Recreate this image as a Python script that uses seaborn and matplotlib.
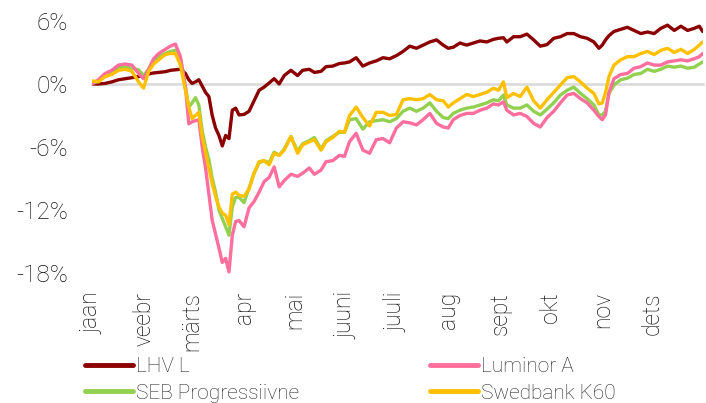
import numpy as np
import pandas as pd
import matplotlib
matplotlib.use("Agg")
import matplotlib.pyplot as plt
import matplotlib.dates as mdates
import seaborn as sns

days = [0, 4, 8, 12, 16, 20, 24, 28, 31, 34, 37, 40, 44, 47, 50, 53, 56, 58, 60, 62,
        64, 66, 68, 70, 72, 74, 76, 78, 80, 82, 84, 86, 88, 91, 94, 97, 100, 103, 106, 109,
        112, 115, 119, 123, 126, 130, 133, 137, 140, 144, 148, 151, 154, 158, 162, 166, 170, 174, 178, 182,
        186, 190, 194, 198, 202, 206, 210, 213, 216, 220, 224, 228, 232, 236, 240, 243, 246, 248, 252, 256,
        260, 264, 268, 272, 276, 280, 284, 288, 292, 296, 300, 303, 305, 307, 309, 312, 316, 320, 324, 328,
        332, 336, 340, 344, 348, 352, 356, 360, 363, 365]

lhv = [0.0, 0.0, 0.05, 0.2, 0.4, 0.5, 0.6, 0.7, 0.8, 0.95, 1.05, 1.1, 1.17, 1.3, 1.35, 1.4, 1.0, 0.4, 0.05, 0.2,
       0.4, -0.2, -0.8, -1.2, -3.0, -4.2, -4.9, -5.9, -4.9, -5.2, -2.5, -2.3, -2.95, -2.9, -2.6, -1.6, -0.6, -0.3, 0.1, 0.5,
       0.0, 0.8, 1.3, 0.8, 1.3, 1.4, 1.1, 1.2, 1.65, 1.7, 1.95, 2.0, 2.1, 2.5, 1.7, 2.0, 2.2, 2.5, 2.4, 2.7,
       3.1, 3.6, 3.4, 3.7, 4.0, 4.2, 3.7, 3.4, 3.5, 3.9, 3.7, 3.9, 4.1, 4.0, 4.25, 4.35, 4.4, 4.0, 4.5, 4.5,
       4.75, 4.2, 3.6, 3.75, 4.35, 4.5, 4.8, 4.8, 4.5, 4.35, 4.0, 3.4, 3.7, 4.2, 4.6, 5.0, 5.2, 5.4, 5.1, 4.8,
       4.95, 4.8, 5.3, 5.6, 5.1, 5.5, 5.1, 5.3, 5.5, 5.0]

luminor = [0.0, 0.4, 1.0, 1.3, 1.8, 1.9, 1.8, 1.0, 0.5, 1.4, 2.4, 2.9, 3.3, 3.6, 3.8, 2.6, -0.3, -3.8, -3.6, -3.5,
           -3.4, -6.0, -8.0, -10.5, -13.0, -14.3, -15.6, -17.0, -16.6, -17.9, -14.4, -13.1, -13.0, -13.6, -11.8, -11.2, -10.3, -9.3, -8.9, -7.9,
           -9.8, -9.2, -8.6, -8.8, -8.5, -8.0, -8.6, -8.2, -7.4, -7.3, -6.8, -6.9, -5.5, -4.7, -6.3, -6.6, -5.3, -5.2, -5.6, -4.2,
           -3.6, -3.7, -3.9, -3.4, -2.8, -3.75, -4.1, -4.2, -3.4, -3.0, -2.8, -2.8, -2.5, -2.3, -1.9, -2.0, -1.7, -2.5, -2.95, -2.8,
           -3.1, -3.75, -4.1, -3.2, -2.6, -1.8, -1.05, -0.9, -1.4, -1.8, -2.5, -3.1, -3.4, -2.9, -0.8, 0.5, 0.9, 1.0, 1.5, 1.65,
           2.0, 1.8, 1.8, 2.1, 2.2, 2.3, 2.2, 2.4, 2.6, 2.9]

seb = [0.0, 0.3, 0.7, 1.1, 1.6, 1.6, 1.5, 1.35, 0.8, 1.4, 2.3, 2.6, 2.9, 3.1, 3.2, 2.4, -0.3, -2.2, -1.8, -1.3,
       -2.0, -4.5, -6.0, -7.2, -9.0, -10.3, -12.0, -12.8, -13.6, -14.4, -11.7, -10.8, -10.8, -11.3, -9.9, -8.5, -7.5, -7.3, -7.5, -6.5,
       -6.8, -6.2, -5.0, -6.4, -5.7, -5.4, -5.1, -6.2, -5.4, -5.0, -4.6, -4.6, -3.4, -3.3, -4.3, -3.6, -3.5, -3.4, -3.6, -3.3,
       -2.6, -2.3, -2.6, -2.3, -1.8, -2.6, -3.2, -3.3, -2.8, -2.5, -2.3, -2.2, -2.0, -1.8, -1.5, -1.6, -1.05, -2.0, -2.3, -2.3,
       -2.0, -2.6, -2.95, -2.4, -1.8, -1.05, -0.6, -0.3, -0.9, -1.4, -2.0, -2.95, -2.95, -2.6, -0.9, -0.1, 0.4, 0.55, 0.9, 1.0,
       1.4, 1.2, 1.4, 1.7, 1.6, 1.7, 1.5, 1.6, 1.9, 2.1]

swedbank = [0.3, 0.2, 0.7, 0.9, 1.3, 1.4, 1.2, 0.2, -0.4, 1.2, 1.9, 2.3, 2.8, 2.9, 2.9, 1.8, -0.6, -2.2, -3.3, -3.0,
            -2.7, -5.0, -6.5, -8.0, -9.5, -10.7, -11.7, -12.3, -12.5, -13.4, -10.5, -10.3, -10.6, -10.7, -10.0, -8.5, -7.4, -7.3, -7.7, -6.6,
            -6.8, -6.3, -5.0, -6.6, -5.8, -5.5, -5.3, -6.3, -5.5, -5.1, -4.5, -4.6, -3.0, -2.2, -3.2, -4.0, -2.7, -2.7, -3.0, -2.9,
            -1.5, -1.4, -1.5, -1.4, -1.0, -1.5, -1.6, -2.2, -1.8, -1.4, -1.0, -1.2, -1.0, -0.8, -0.4, -0.6, 0.2, -1.3, -0.9, -1.2,
            -0.3, -1.6, -2.3, -1.5, -0.8, -0.1, 0.6, 0.7, 0.2, -0.4, -0.9, -1.9, -1.8, -0.8, 0.7, 1.8, 2.3, 2.6, 2.6, 2.9,
            3.1, 2.8, 3.2, 3.4, 3.0, 3.3, 2.9, 3.3, 3.7, 4.0]

funds = ["LHV L", "SEB Progressiivne", "Luminor A", "Swedbank K60"]
colors = ["#8B0000", "#92D050", "#FF6E9C", "#FFC000"]
months = ["jaan", "veebr", "märts", "apr", "mai", "juuni", "juuli", "aug", "sept", "okt", "nov", "dets"]
yticks = [6, 0, -6, -12, -18]

dates = pd.Timestamp("2020-01-01") + pd.to_timedelta(days, unit="D")
df = pd.concat([pd.DataFrame({"date": dates, "value": v, "fund": f})
                for f, v in zip(funds, [lhv, seb, luminor, swedbank])])

sns.set_style("white")
plt.rcParams["font.family"] = ["Roboto", "DejaVu Sans"]
plt.rcParams["font.weight"] = "light"
plt.rcParams["axes.unicode_minus"] = False

fig = plt.figure(figsize=(7.06, 4.03), dpi=100)
ax = fig.add_axes([0.1299, 0.3096, 0.8654, 0.6514])

sns.lineplot(data=df, x="date", y="value", hue="fund", hue_order=funds,
             palette=colors, linewidth=2.4, ax=ax)

ax.set_xlim(pd.Timestamp("2020-01-01"), pd.Timestamp("2020-12-31"))
ax.set_ylim(-18.5, 6.5)
ax.set_xlabel("")
ax.set_ylabel("")

# zero line acts as the x axis, with month ticks hanging from it
for s in ["top", "right", "left"]:
    ax.spines[s].set_visible(False)
ax.spines["bottom"].set_position(("data", 0))
ax.spines["bottom"].set_color("#d9d9d9")
ax.spines["bottom"].set_linewidth(1.8)
ax.spines["bottom"].set_zorder(0)
month_starts = [mdates.date2num(d) for d in pd.date_range("2020-01-01", periods=12, freq="MS")]
ax.set_xticks(month_starts + [mdates.date2num(pd.Timestamp("2020-12-31"))])
ax.tick_params(axis="x", direction="out", length=5, width=1.5, color="#d9d9d9", labelbottom=False)

sec = ax.secondary_xaxis("bottom")
sec.set_xticks(month_starts, labels=months, rotation=90)
sec.tick_params(length=0, pad=10, labelsize=16.5, labelcolor="#111111")
sec.spines["bottom"].set_visible(False)

ax.set_yticks(yticks, labels=[f"{v}%" for v in yticks])
ax.tick_params(axis="y", length=0, pad=17, labelsize=17.5, labelcolor="#111111")

sns.move_legend(ax, "upper left", bbox_to_anchor=(0.12, 0.113), bbox_transform=fig.transFigure,
                ncol=2, frameon=False, title=None, fontsize=15, borderpad=0, borderaxespad=0,
                handlelength=2.3, handletextpad=0.15, columnspacing=6.3, labelspacing=0.35)
for line in ax.get_legend().get_lines():
    line.set_linewidth(3.5)

fig.savefig("out.png", dpi=100)
